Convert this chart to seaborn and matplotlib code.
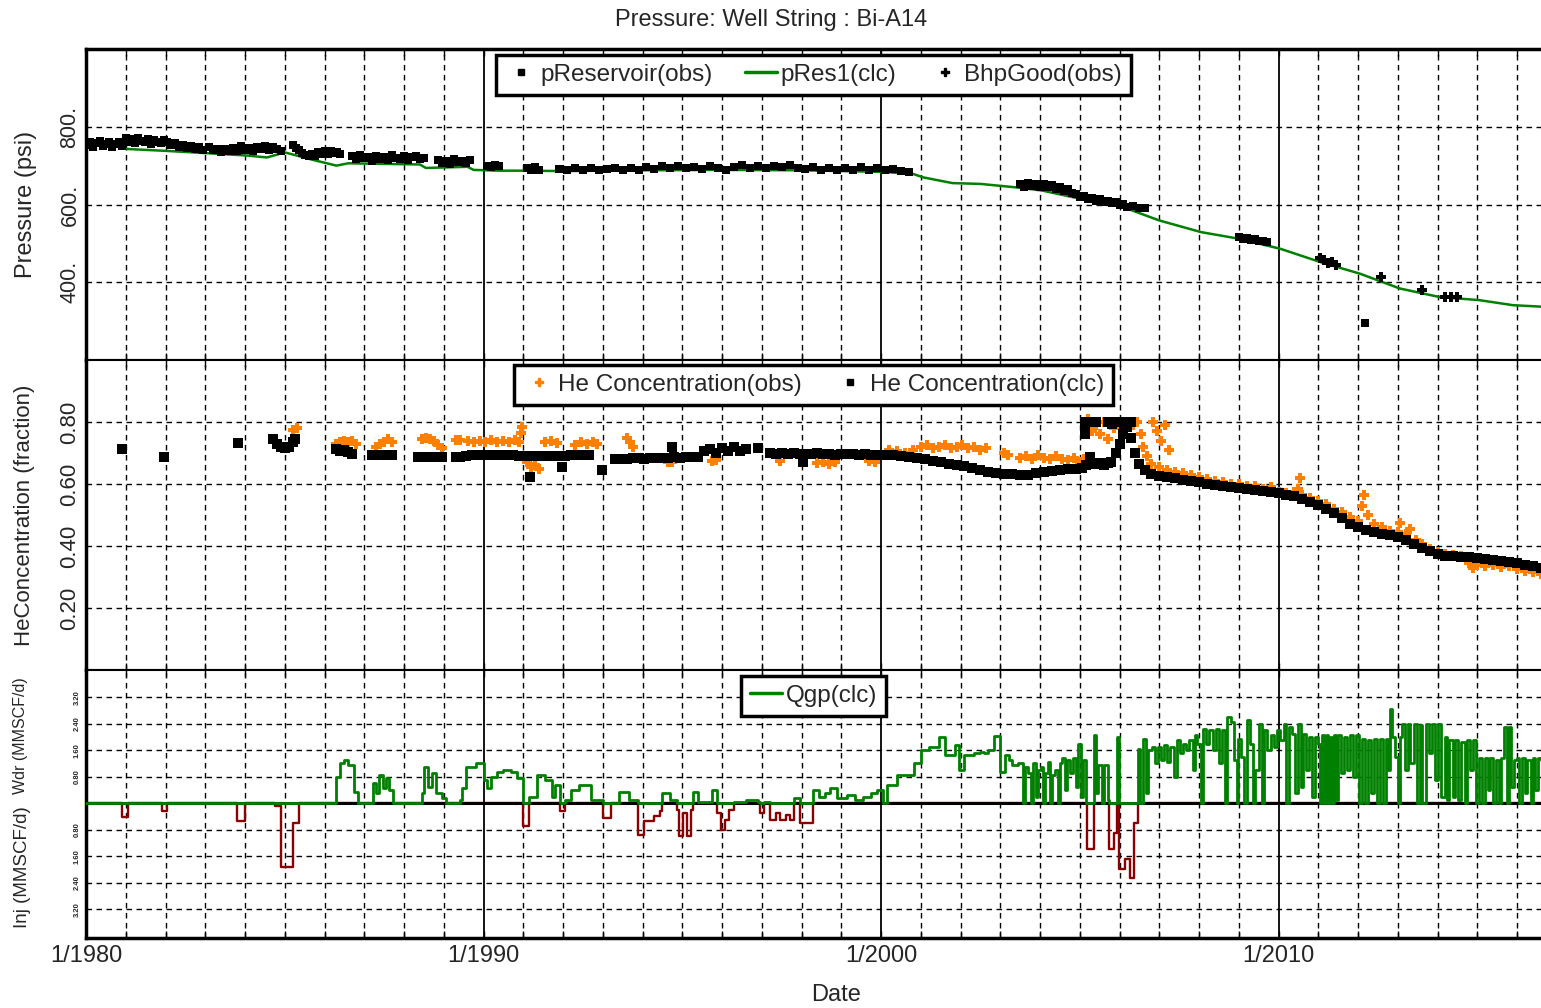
import numpy as np
import matplotlib
matplotlib.use("Agg")
import matplotlib.pyplot as plt
from matplotlib.ticker import MultipleLocator, FixedLocator
from matplotlib.lines import Line2D
import seaborn as sns

# ---------------- DATA (decimal years) ----------------
P_OBS_YEAR = [1980.02, 1980.1, 1980.18, 1980.26, 1980.34, 1980.42, 1980.5, 1980.58, 1980.66, 1980.74, 1980.82, 1980.9,
              1981.0, 1981.08, 1981.16, 1981.24, 1981.32, 1981.4, 1981.48, 1981.56, 1981.64, 1981.72, 1981.8, 1981.88, 1981.96,
              1982.05, 1982.15, 1982.25, 1982.35, 1982.45, 1982.55, 1982.65, 1982.75, 1982.85, 1982.95,
              1983.1, 1983.2, 1983.3, 1983.4, 1983.5, 1983.6, 1983.7, 1983.8, 1983.9, 1984.0, 1984.1, 1984.2, 1984.3,
              1984.4, 1984.5, 1984.6, 1984.7, 1984.8, 1984.9,
              1985.2, 1985.28, 1985.36, 1985.44, 1985.52, 1985.6, 1985.68, 1985.76, 1985.84, 1985.92, 1986.0, 1986.08,
              1986.16, 1986.24, 1986.32, 1986.4,
              1986.7, 1986.8, 1986.9, 1987.0, 1987.1, 1987.2, 1987.3, 1987.4, 1987.5, 1987.6, 1987.7, 1987.8, 1987.9,
              1988.0, 1988.1, 1988.2, 1988.3, 1988.4, 1988.5,
              1988.85, 1988.95, 1989.05, 1989.15, 1989.25, 1989.35, 1989.45, 1989.55, 1989.65,
              1990.1, 1990.2, 1990.3, 1990.4,
              1991.1, 1991.2, 1991.3, 1991.4,
              1991.9, 1992.1, 1992.3, 1992.5, 1992.7, 1992.9, 1993.1, 1993.3, 1993.5, 1993.7, 1993.9, 1994.1, 1994.3,
              1994.5, 1994.7, 1994.9, 1995.1, 1995.3, 1995.5, 1995.7, 1995.9, 1996.1, 1996.3, 1996.5, 1996.7, 1996.9,
              1997.1, 1997.3, 1997.5, 1997.7, 1997.9, 1998.1, 1998.3, 1998.5, 1998.7, 1998.9, 1999.1, 1999.3, 1999.5,
              1999.7, 1999.9, 2000.1, 2000.3, 2000.5, 2000.7,
              2003.5, 2003.6, 2003.7, 2003.8, 2003.9, 2004.0, 2004.1, 2004.2, 2004.3, 2004.4, 2004.5, 2004.6, 2004.7,
              2004.8, 2004.9, 2005.0, 2005.1, 2005.2, 2005.3, 2005.4, 2005.5, 2005.6, 2005.7, 2005.8, 2005.9, 2006.0,
              2006.1, 2006.2, 2006.35, 2006.5, 2006.65,
              2009.0, 2009.1, 2009.2, 2009.3, 2009.4, 2009.5, 2009.6, 2009.7,
              2012.17]
P_OBS_PSI = [752, 760, 748, 757, 763, 750, 755, 761, 747, 756, 762, 751,
             770, 762, 768, 757, 771, 764, 760, 769, 755, 766, 761, 758, 765,
             760, 752, 757, 749, 754, 745, 751, 744, 748, 741,
             747, 740, 744, 736, 742, 738, 745, 737, 750, 741, 746, 738, 749,
             743, 751, 740, 748, 744, 737,
             752, 745, 740, 733, 728, 724, 730, 726, 735, 729, 737, 731,
             738, 733, 736, 730,
             724, 716, 728, 719, 723, 713, 726, 718, 722, 715, 727, 720, 717,
             724, 714, 721, 725, 716, 720,
             715, 707, 713, 704, 716, 709, 712, 706, 714,
             700, 697, 702, 699,
             694, 688, 696, 690,
             692, 688, 694, 689, 693, 688, 691, 695, 689, 694, 690, 696, 691,
             698, 693, 699, 694, 697, 692, 698, 694, 690, 697, 701, 695, 700,
             694, 699, 696, 701, 694, 692, 697, 690, 695, 689, 694, 690, 696,
             689, 693, 688, 692, 686, 684,
             652, 645, 655, 648, 653, 646, 652, 644, 649, 640, 645, 636, 640,
             630, 626, 620, 623, 614, 618, 610, 614, 606, 610, 603, 606, 598,
             602, 594, 596, 590, 592,
             516, 511, 514, 508, 511, 505, 507, 503,
             295]

BHP_YEAR = [2011.05, 2011.15, 2011.25, 2011.35, 2011.45, 2012.57, 2013.61, 2014.2, 2014.35, 2014.5]
BHP_PSI = [462, 456, 450, 452, 445, 413, 380, 362, 361, 363]

PRES_YEAR = [1980.0, 1980.9, 1981.0, 1982.0, 1983.05, 1984.05, 1984.55, 1985.0, 1985.3, 1985.7, 1986.3, 1986.6,
             1988.4, 1988.55, 1989.6, 1989.75, 1990.4, 1991.0, 1992.0, 1994.0, 1996.0, 1998.0, 2000.0, 2000.8,
             2001.05, 2001.8, 2002.5, 2003.4, 2004.05, 2005.0, 2006.1, 2007.0, 2008.05, 2009.0, 2010.05, 2011.05,
             2012.05, 2013.05, 2014.05, 2015.05, 2015.9, 2016.65]
PRES_PSI = [756, 752, 743, 738, 732, 726, 721, 734, 726, 715, 700, 706,
            703, 694, 697, 689, 687, 687, 686, 688, 689, 688, 684, 679,
            670, 655, 653, 644, 636, 615, 593, 559, 529, 512, 486, 452,
            422, 384, 362, 354, 341, 337]

HE_CLC_YEAR = [1980.9, 1981.95, 1983.83,
               1984.7, 1984.8, 1984.9, 1985.0, 1985.1, 1985.2, 1985.26,
               1986.3, 1986.4, 1986.5, 1986.6, 1986.7,
               1987.2, 1987.3, 1987.4, 1987.5, 1987.6, 1987.7,
               1988.35, 1988.45, 1988.55, 1988.65, 1988.75, 1988.85, 1988.95,
               1989.3, 1989.42,
               1989.55, 1989.7, 1989.85, 1990.0, 1990.15, 1990.3, 1990.45, 1990.6, 1990.75, 1990.9, 1991.05,
               1991.2, 1991.35, 1991.5, 1991.65, 1991.8,
               1991.17, 1991.97,
               1992.05, 1992.2, 1992.35, 1992.5, 1992.65,
               1992.98,
               1993.3, 1993.45, 1993.6, 1993.75, 1993.9, 1994.05, 1994.2, 1994.35, 1994.5, 1994.65, 1994.8, 1994.95,
               1995.1, 1995.25, 1995.4,
               1994.74,
               1995.55, 1995.7, 1995.85, 1996.0, 1996.15, 1996.3, 1996.45, 1996.6,
               1996.9,
               1997.2, 1997.35, 1997.5, 1997.65, 1997.8, 1997.95, 1998.1, 1998.25, 1998.4, 1998.55, 1998.7, 1998.85,
               1999.0, 1999.15, 1999.3, 1999.45, 1999.6, 1999.75, 1999.9,
               1998.04,
               2000.1, 2000.3, 2000.5, 2000.7, 2000.9, 2001.1, 2001.3, 2001.5, 2001.7, 2001.9, 2002.1, 2002.3, 2002.5,
               2002.7, 2002.9, 2003.1, 2003.3, 2003.5, 2003.7, 2003.9, 2004.1, 2004.3, 2004.5, 2004.7, 2004.9, 2005.05,
               2005.15, 2005.26, 2005.35, 2005.48, 2005.6, 2005.7, 2005.78, 2005.9, 2006.0, 2006.1, 2006.2, 2006.3,
               2006.4, 2006.5, 2006.64, 2006.8, 2007.0, 2007.2, 2007.4, 2007.6, 2007.8, 2008.0, 2008.2, 2008.4, 2008.6,
               2008.8, 2009.0, 2009.2, 2009.4, 2009.6, 2009.8, 2010.0, 2010.2, 2010.4, 2010.6, 2010.8, 2011.0, 2011.2,
               2011.4, 2011.6, 2011.8, 2012.0, 2012.2, 2012.4, 2012.6, 2012.8, 2013.0, 2013.2, 2013.4, 2013.6, 2013.8,
               2014.0, 2014.2, 2014.4, 2014.6, 2014.8, 2015.0, 2015.2, 2015.4, 2015.6, 2015.8, 2016.0, 2016.2, 2016.4,
               2016.6,
               2005.12, 2005.2, 2005.3, 2005.4, 2005.72, 2005.82, 2005.92, 2006.02, 2006.12, 2006.22, 2006.3,
               2005.12, 2005.12]
HE_CLC = [0.713, 0.687, 0.733,
          0.745, 0.730, 0.718, 0.715, 0.720, 0.735, 0.745,
          0.713, 0.708, 0.710, 0.703, 0.698,
          0.695, 0.694, 0.695, 0.694, 0.694, 0.694,
          0.688, 0.687, 0.688, 0.686, 0.688, 0.687, 0.688,
          0.688, 0.688,
          0.690, 0.692, 0.693, 0.694, 0.694, 0.693, 0.694, 0.692, 0.692, 0.690, 0.691,
          0.690, 0.690, 0.689, 0.690, 0.690,
          0.624, 0.656,
          0.690, 0.692, 0.694, 0.694, 0.695,
          0.645,
          0.680, 0.682, 0.681, 0.683, 0.684, 0.682, 0.684, 0.683, 0.685, 0.684, 0.686, 0.685,
          0.687, 0.686, 0.688,
          0.720,
          0.705, 0.712, 0.700, 0.715, 0.708, 0.718, 0.706, 0.712,
          0.715,
          0.700, 0.698, 0.701, 0.697, 0.700, 0.696, 0.698, 0.697, 0.699, 0.696, 0.698, 0.695,
          0.697, 0.696, 0.697, 0.695, 0.696, 0.694, 0.695,
          0.670,
          0.693, 0.692, 0.690, 0.688, 0.685, 0.680, 0.675, 0.670, 0.666, 0.662, 0.658, 0.652, 0.645,
          0.640, 0.636, 0.633, 0.631, 0.629, 0.630, 0.634, 0.638, 0.642, 0.645, 0.647, 0.649, 0.652,
          0.660, 0.687, 0.665, 0.668, 0.660, 0.668, 0.672, 0.700, 0.730, 0.760, 0.785, 0.750,
          0.700, 0.665, 0.645, 0.633, 0.627, 0.622, 0.618, 0.614, 0.610, 0.605, 0.600, 0.596, 0.592,
          0.589, 0.587, 0.584, 0.580, 0.577, 0.574, 0.570, 0.566, 0.561, 0.552, 0.542, 0.532, 0.520,
          0.505, 0.490, 0.472, 0.460, 0.452, 0.446, 0.440, 0.435, 0.430, 0.420, 0.408, 0.395, 0.383,
          0.373, 0.369, 0.367, 0.365, 0.363, 0.361, 0.358, 0.355, 0.352, 0.350, 0.345, 0.340, 0.335,
          0.330,
          0.800, 0.800, 0.800, 0.800, 0.800, 0.795, 0.800, 0.800, 0.795, 0.800, 0.800,
          0.780, 0.760]

HE_OBS_YEAR = [1985.2, 1985.3,
               1986.3, 1986.4, 1986.5, 1986.6, 1986.7, 1986.8,
               1987.3, 1987.4, 1987.5, 1987.6, 1987.7,
               1988.45, 1988.55, 1988.65, 1988.75, 1988.85, 1988.95,
               1989.32, 1989.42,
               1989.6, 1989.75, 1989.9, 1990.05, 1990.2, 1990.35, 1990.5, 1990.65, 1990.8, 1990.9,
               1990.95, 1990.97,
               1991.1, 1991.2, 1991.3, 1991.4,
               1991.55, 1991.7, 1991.85,
               1992.3, 1992.45, 1992.6, 1992.75, 1992.85,
               1993.6, 1993.68, 1993.75,
               1994.65, 1994.75, 1995.75, 1995.85, 1997.46,
               1998.4, 1998.55, 1998.7, 1998.85, 1999.7, 1999.85,
               2000.2, 2000.4, 2000.6, 2000.8, 2001.0, 2001.15, 2001.3, 2001.45, 2001.6, 2001.75, 2001.9, 2002.05,
               2002.2, 2002.35, 2002.5, 2002.65, 2003.1, 2003.2, 2003.5, 2003.65, 2003.8, 2003.95, 2004.1, 2004.25,
               2004.4, 2004.55, 2004.7, 2004.85, 2005.0, 2005.1,
               2005.2, 2005.3, 2005.4, 2005.5, 2005.6, 2005.7, 2005.85,
               2006.35, 2006.45, 2006.55, 2006.6, 2006.7, 2006.85, 2006.95, 2007.05, 2007.15, 2007.25,
               2006.8, 2007.0, 2007.2, 2007.4, 2007.6, 2007.8, 2008.0, 2008.2, 2008.4, 2008.6, 2008.8, 2009.0,
               2009.2, 2009.4, 2009.6, 2009.8, 2010.0, 2010.2, 2010.4, 2010.5, 2010.55, 2010.6, 2010.8, 2011.0,
               2011.2, 2011.4, 2011.6, 2011.8, 2012.0, 2012.1, 2012.15, 2012.25, 2012.4, 2012.6, 2012.8, 2013.0,
               2013.05, 2013.2, 2013.3, 2013.45, 2013.6, 2013.8, 2014.0, 2014.2, 2014.4, 2014.6, 2014.8, 2014.9,
               2015.0, 2015.2, 2015.4, 2015.6, 2015.8, 2016.0, 2016.2, 2016.4, 2016.6]
HE_OBS = [0.775, 0.780,
          0.730, 0.735, 0.740, 0.735, 0.738, 0.730,
          0.720, 0.730, 0.735, 0.745, 0.735,
          0.745, 0.750, 0.745, 0.740, 0.725, 0.715,
          0.742, 0.742,
          0.738, 0.735, 0.740, 0.736, 0.742, 0.735, 0.740, 0.736, 0.742, 0.736,
          0.765, 0.785,
          0.670, 0.655, 0.660, 0.648,
          0.735, 0.738, 0.732,
          0.725, 0.735, 0.730, 0.735, 0.728,
          0.750, 0.735, 0.720,
          0.670, 0.672, 0.675, 0.678, 0.675,
          0.668, 0.672, 0.666, 0.670, 0.675, 0.672,
          0.710, 0.705, 0.700, 0.710, 0.720, 0.725, 0.715, 0.720, 0.725, 0.715, 0.720, 0.725,
          0.715, 0.720, 0.710, 0.715, 0.700, 0.695, 0.685, 0.690, 0.680, 0.695, 0.685, 0.680,
          0.690, 0.682, 0.676, 0.685, 0.672, 0.680,
          0.810, 0.770, 0.790, 0.760, 0.800, 0.745, 0.780,
          0.790, 0.800, 0.760, 0.720, 0.690, 0.800, 0.770, 0.740, 0.790, 0.710,
          0.665, 0.655, 0.645, 0.640, 0.635, 0.628, 0.622, 0.615, 0.610, 0.605, 0.600, 0.600,
          0.595, 0.595, 0.585, 0.590, 0.575, 0.570, 0.575, 0.585, 0.620, 0.565, 0.555, 0.545,
          0.535, 0.520, 0.510, 0.495, 0.480, 0.530, 0.565, 0.500, 0.470, 0.460, 0.450, 0.445,
          0.475, 0.440, 0.455, 0.420, 0.405, 0.390, 0.380, 0.375, 0.372, 0.368, 0.345, 0.330,
          0.340, 0.335, 0.340, 0.332, 0.335, 0.325, 0.318, 0.315, 0.310]

QGP_YEAR = [1980.0, 1980.9, 1981.05, 1981.9, 1982.05, 1983.8, 1984.0, 1984.75, 1984.9, 1985.2, 1985.35,
            1986.3, 1986.4, 1986.5, 1986.6, 1986.75, 1986.85,
            1987.22, 1987.3, 1987.38, 1987.46, 1987.55, 1987.62, 1987.72,
            1988.45, 1988.5, 1988.6, 1988.7, 1988.8, 1988.95, 1989.05,
            1989.4, 1989.45, 1989.55, 1989.8, 1990.0, 1990.08, 1990.2, 1990.35, 1990.5, 1990.7, 1990.85,
            1991.0, 1991.15, 1991.35, 1991.55, 1991.72, 1991.8, 1991.92, 1992.05, 1992.2, 1992.4, 1992.7,
            1993.0, 1993.2, 1993.4, 1993.65, 1993.88, 1994.05, 1994.3, 1994.45, 1994.5, 1994.7,
            1994.87, 1994.93, 1995.03, 1995.12, 1995.22, 1995.28, 1995.4, 1995.75, 1995.88, 1995.98, 1996.08,
            1996.18, 1996.3, 1996.6, 1996.9, 1996.95, 1997.05, 1997.2, 1997.35, 1997.45, 1997.6, 1997.7,
            1997.8, 1997.95, 1998.28, 1998.45, 1998.6, 1998.72, 1998.9, 1999.14, 1999.35, 1999.55, 1999.75,
            1999.9, 2000.05, 2000.15, 2000.4, 2000.82, 2001.0, 2001.2, 2001.45, 2001.6, 2001.85, 2001.97,
            2002.1, 2002.35,
            2002.5, 2002.6, 2002.7, 2002.84, 2003.0, 2003.12, 2003.22, 2003.3, 2003.45, 2003.57, 2003.62,
            2003.7, 2003.78, 2003.82, 2003.9, 2003.95, 2004.02, 2004.08, 2004.12, 2004.2, 2004.26, 2004.3,
            2004.38, 2004.45, 2004.5, 2004.56, 2004.62, 2004.68, 2004.76, 2004.82, 2004.9, 2004.96, 2005.02,
            2005.08, 2005.15, 2005.18, 2005.36, 2005.42, 2005.46, 2005.55, 2005.6, 2005.7, 2005.73, 2005.86,
            2005.93, 2005.99, 2006.14, 2006.27, 2006.37, 2006.46, 2006.52, 2006.58, 2006.66, 2006.72, 2006.82,
            2006.9, 2006.98, 2007.05, 2007.12, 2007.2, 2007.28, 2007.36, 2007.45, 2007.52, 2007.6, 2007.68,
            2007.76, 2007.84, 2007.9, 2007.96, 2008.04, 2008.1, 2008.18, 2008.26, 2008.34, 2008.42, 2008.5,
            2008.58, 2008.66, 2008.7, 2008.8, 2008.88, 2008.95, 2008.98, 2009.06, 2009.12, 2009.2, 2009.28,
            2009.36, 2009.42, 2009.5, 2009.58, 2009.64, 2009.72, 2009.8, 2009.88, 2009.96, 2010.05, 2010.14,
            2010.2, 2010.26, 2010.34, 2010.42, 2010.48, 2010.56, 2010.62, 2010.7, 2010.77, 2010.85, 2010.92,
            2011.0, 2011.05, 2011.1, 2011.15, 2011.2, 2011.25, 2011.3, 2011.35, 2011.4, 2011.45, 2011.5,
            2011.58, 2011.65, 2011.72, 2011.8, 2011.88, 2011.95, 2012.03, 2012.1, 2012.18, 2012.25, 2012.32,
            2012.4, 2012.48, 2012.55, 2012.62, 2012.7, 2012.76, 2012.8, 2012.86, 2012.93, 2013.0, 2013.05,
            2013.1, 2013.18, 2013.25, 2013.32, 2013.4, 2013.48, 2013.55, 2013.62, 2013.7, 2013.78, 2013.86,
            2013.94, 2014.02, 2014.1, 2014.18, 2014.25, 2014.3, 2014.38, 2014.45, 2014.52, 2014.6, 2014.68,
            2014.75, 2014.82, 2014.9, 2014.96, 2015.05, 2015.12, 2015.2, 2015.26, 2015.32, 2015.4, 2015.46,
            2015.54, 2015.6, 2015.67, 2015.74, 2015.8, 2015.86, 2015.93, 2016.0, 2016.06, 2016.12, 2016.2,
            2016.26, 2016.34, 2016.4, 2016.46, 2016.53, 2016.6]
QGP = [0.0, -0.41, 0.0, -0.23, 0.0, -0.53, 0.0, -0.10, -1.92, -0.6, 0.0,
       0.8, 1.2, 1.3, 1.15, 0.34, 0.0,
       0.6, 0.3, 0.84, 0.45, 0.75, 0.4, 0.0,
       0.3, 1.1, 0.5, 0.9, 0.3, 0.15, 0.0,
       0.1, 0.46, 1.1, 1.2, 0.7, 0.45, 0.8, 0.95, 1.0, 0.95, 0.75,
       -0.7, 0.2, 0.85, 0.7, 0.2, 0.55, -0.25, 0.1, 0.4, 0.55, 0.1,
       -0.46, 0.0, 0.35, 0.1, -0.97, -0.55, -0.4, -0.25, 0.3, 0.1,
       -0.2, -1.0, -0.3, -1.0, -0.2, 0.35, 0.05, 0.4, -0.3, -0.8, -0.5,
       -0.2, 0.05, 0.1, 0.05, -0.3, 0.05, -0.5, -0.3, -0.5, -0.35, -0.5,
       0.15, -0.6, 0.4, 0.2, 0.3, 0.45, 0.15, 0.25, 0.1, 0.2, 0.3,
       0.4, 0.0, 0.55, 0.85, 1.2, 1.6, 1.7, 2.0, 1.45, 1.75, 1.0,
       1.45, 1.5,
       1.54, 1.5, 1.6, 2.03, 0.93, 1.45, 1.3, 1.15, 1.2, 0.0, 1.1,
       0.9, 0.0, 1.2, 0.2, 1.0, 1.1, 0.0, 0.9, 1.25, 0.0, 0.85,
       1.0, 0.0, 1.2, 1.35, 0.4, 1.3, 0.9, 1.35, 0.5, 1.8, 0.2,
       1.3, 0.0, -1.39, 2.05, 0.3, 1.15, 0.0, 1.15, 0.1, -1.39, -0.9,
       2.0, -2.0, -1.7, -2.25, -0.6, 1.65, 0.0, 1.95, 0.3, 1.6, 1.7,
       1.2, 1.7, 1.3, 1.75, 1.25, 1.7, 0.8, 1.9, 1.5, 1.8, 1.6,
       1.9, 1.0, 2.05, 1.8, 0.0, 2.25, 1.8, 2.2, 1.6, 2.25, 1.2,
       2.2, 0.0, 2.6, 2.45, 1.3, 0.0, 1.95, 1.4, 0.0, 2.5, 1.8,
       0.0, 1.0, 2.4, 0.0, 2.2, 1.6, 2.05, 1.7, 2.2, 1.9, 2.4,
       0.0, 2.3, 2.1, 0.3, 2.4, 0.5, 2.1, 1.0, 2.0, 0.2, 2.0,
       1.8, 0.0, 2.05, 0.0, 2.05, 0.0, 2.0, 0.0, 2.05, 0.1, 2.05,
       0.9, 2.0, 1.0, 2.05, 0.8, 2.05, 0.0, 1.95, 0.0, 1.9, 0.3,
       1.95, 0.0, 1.95, 0.0, 1.95, 1.0, 2.85, 2.0, 1.4, 0.0, 2.0,
       2.4, 1.0, 2.4, 1.2, 2.4, 0.0, 2.35, 0.0, 2.4, 1.5, 2.4,
       0.7, 2.4, 0.2, 2.0, 0.1, 1.9, 0.2, 1.9, 0.1, 1.85, 0.0,
       1.9, 1.0, 1.9, 0.0, 1.35, 0.0, 1.35, 0.4, 1.35, 0.0, 1.3,
       0.0, 1.35, 2.3, 0.0, 2.3, 0.5, 1.3, 1.35, 0.0, 1.35, 0.3,
       1.3, 0.0, 1.35, 0.4, 1.35, 1.3]

DECADE_LABELS = ["1/1980", "1/1990", "1/2000", "1/2010"]
DECADES = [1980, 1990, 2000, 2010]

# ---------------- STYLE ----------------
sns.set_style("white")
plt.rcParams["font.family"] = ["Liberation Sans", "DejaVu Sans"]

W, H = 1541, 1008
fig = plt.figure(figsize=(W / 100, H / 100), dpi=100)
L = 86 / W


def rect(top_px, bot_px):
    return [L, 1 - bot_px / H, 1 - L, (bot_px - top_px) / H]


ax1 = fig.add_axes(rect(49, 360))
ax2 = fig.add_axes(rect(360, 670))
ax3 = fig.add_axes(rect(670, 938))

XMIN, XMAX = 1980.0, 1980 + (1541 - 86) / 39.75
GREEN = "#008000"
ORANGE = "#ff8000"
DARKRED = "#8b0000"
DASH = (0, (4, 3.2))


def style(ax, top_lw=2.0, bot_lw=2.0):
    ax.set_xlim(XMIN, XMAX)
    ax.xaxis.set_major_locator(FixedLocator(DECADES))
    ax.xaxis.set_minor_locator(MultipleLocator(1))
    ax.grid(which="major", axis="x", color="black", lw=1.3, ls="-")
    ax.grid(which="minor", axis="x", color="black", lw=1.0, ls=DASH)
    ax.grid(which="major", axis="y", color="black", lw=1.0, ls=DASH)
    ax.tick_params(axis="x", which="both", direction="in", top=True, bottom=True,
                   length=5, width=1, color="black", labelbottom=False)
    ax.tick_params(axis="y", length=0, pad=4)
    ax.set_axisbelow(True)
    for s in ax.spines.values():
        s.set_color("black")
    ax.spines["right"].set_visible(False)
    ax.spines["left"].set_linewidth(2.5)
    ax.spines["top"].set_linewidth(top_lw)
    ax.spines["bottom"].set_linewidth(bot_lw)
    ax.set_xlabel("")


def legend(ax, handles, labels, ncol, y_anchor):
    lg = ax.legend(handles, labels, loc="upper center", bbox_to_anchor=(0.5, y_anchor), ncol=ncol,
                   frameon=True, fancybox=False, shadow=False, framealpha=1, facecolor="white",
                   edgecolor="black", fontsize=17.5, handlelength=1.3, handletextpad=0.15,
                   columnspacing=1.35, borderpad=0.36, borderaxespad=0)
    lg.get_frame().set_linewidth(2.5)
    lg.set_zorder(10)
    return lg


# ---------------- Panel 1: Pressure ----------------
sns.lineplot(x=PRES_YEAR, y=PRES_PSI, ax=ax1, color=GREEN, lw=1.8, estimator=None, sort=False, legend=False, zorder=3)
sns.scatterplot(x=P_OBS_YEAR, y=P_OBS_PSI, ax=ax1, marker="s", s=32, color="black", linewidth=0, legend=False, zorder=4)
sns.scatterplot(x=BHP_YEAR, y=BHP_PSI, ax=ax1, marker="P", s=55, color="black", linewidth=0, legend=False, zorder=4)
style(ax1, top_lw=2.5, bot_lw=1.5)
ax1.set_ylim(200, 1000)
ax1.yaxis.set_major_locator(FixedLocator([400, 600, 800]))
ax1.set_yticklabels(["400.", "600.", "800."], rotation=90, va="center", fontsize=15.5)
ax1.set_ylabel("Pressure (psi)", fontsize=17)
ax1.yaxis.set_label_coords((37 - 86) / 1455, 0.5)
legend(ax1,
       [Line2D([], [], marker="s", color="black", ls="none", markersize=5),
        Line2D([], [], color=GREEN, lw=2.5),
        Line2D([], [], marker="P", color="black", ls="none", markersize=6)],
       ["pReservoir(obs)", "pRes1(clc)", "BhpGood(obs)"], 3, 1 - 6 / 311)

# ---------------- Panel 2: He concentration ----------------
sns.scatterplot(x=HE_OBS_YEAR, y=HE_OBS, ax=ax2, marker="P", s=55, color=ORANGE, linewidth=0, legend=False, zorder=3)
sns.scatterplot(x=HE_CLC_YEAR, y=HE_CLC, ax=ax2, marker="s", s=42, color="black", linewidth=0, legend=False, zorder=4)
style(ax2, top_lw=1.5, bot_lw=1.5)
ax2.set_ylim(0, 1)
ax2.yaxis.set_major_locator(FixedLocator([0.2, 0.4, 0.6, 0.8]))
ax2.set_yticklabels(["0.20", "0.40", "0.60", "0.80"], rotation=90, va="center", fontsize=16)
ax2.set_ylabel("HeConcentration (fraction)", fontsize=16)
ax2.yaxis.set_label_coords((35 - 86) / 1455, 0.5)
legend(ax2,
       [Line2D([], [], marker="P", color=ORANGE, ls="none", markersize=6),
        Line2D([], [], marker="s", color="black", ls="none", markersize=5)],
       ["He Concentration(obs)", "He Concentration(clc)"], 2, 1 - 5 / 310)

# ---------------- Panel 3: Qgp ----------------
q = np.array(QGP, dtype=float)
sns.lineplot(x=QGP_YEAR, y=np.minimum(q, 0), ax=ax3, color=DARKRED, lw=1.7, estimator=None, sort=False,
             legend=False, drawstyle="steps-post", zorder=2)
ax3.axhline(0, color="black", lw=2.2, zorder=2.5)
sns.lineplot(x=QGP_YEAR, y=np.maximum(q, 0), ax=ax3, color=GREEN, lw=2.0, estimator=None, sort=False,
             legend=False, drawstyle="steps-post", zorder=3)
style(ax3, top_lw=1.5, bot_lw=2.5)
ax3.set_ylim(-4.07, 4.02)
qt = [-3.2, -2.4, -1.6, -0.8, 0.8, 1.6, 2.4, 3.2]
ax3.yaxis.set_major_locator(FixedLocator(qt))
ax3.set_yticklabels([f"{abs(v):.2f}" for v in qt], rotation=90, va="center", fontsize=5.5, fontweight="bold")
ax3.set_ylabel("")
ax3.tick_params(axis="x", which="major", labelbottom=True, labelsize=17, pad=5)
ax3.set_xticklabels(DECADE_LABELS)
legend(ax3, [Line2D([], [], color=GREEN, lw=2.5)], ["Qgp(clc)"], 1, 1 - 6 / 268)

fig.text(21 / W, 1 - 736 / H, "Wdr (MMSCF/d)", rotation=90, ha="center", va="center", fontsize=11.5)
fig.text(23 / W, 1 - 867 / H, "Inj (MMSCF/d)", rotation=90, ha="center", va="center", fontsize=13.5)

# ---------------- Titles ----------------
fig.text(771 / W, 1 - 20 / H, "Pressure: Well String : Bi-A14", ha="center", va="center", fontsize=17)
fig.text(836 / W, 1 - 995 / H, "Date", ha="center", va="center", fontsize=17)

fig.savefig("out.png", dpi=100)
